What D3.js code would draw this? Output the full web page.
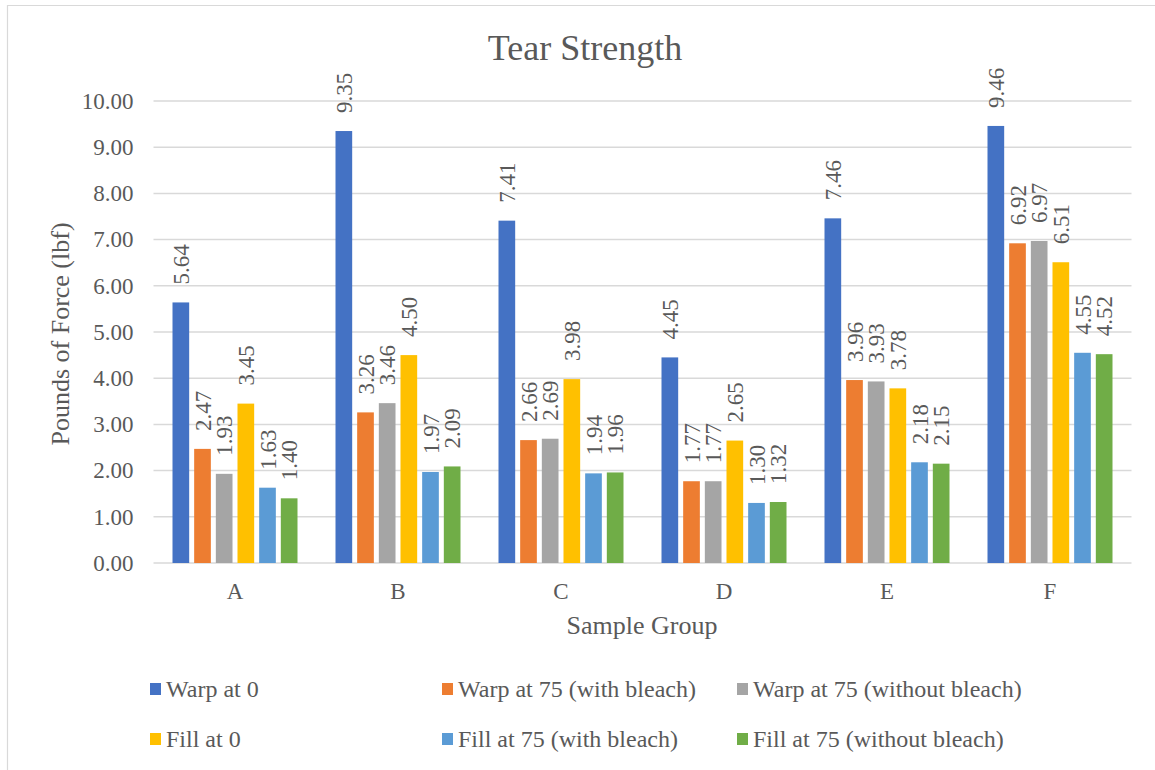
<!DOCTYPE html>
<html>
<head>
    <title>Tear Strength</title>
    <meta charset="utf-8">
    <style>
        body { margin: 0; background: #fff; }
        svg text { font-family: "Liberation Serif", "Times New Roman", serif !important; fill: #595959; }
    </style>
</head>
<body>
<script src="https://d3js.org/d3.v7.min.js"></script>
<script>
    // Data
    const groups = ['A', 'B', 'C', 'D', 'E', 'F'];
    const seriesNames = [
        'Warp at 0',
        'Warp at 75 (with bleach)',
        'Warp at 75 (without bleach)',
        'Fill at 0',
        'Fill at 75 (with bleach)',
        'Fill at 75 (without bleach)'
    ];
    const warpAt0 = [5.64, 9.35, 7.41, 4.45, 7.46, 9.46];
    const warp75Bleach = [2.47, 3.26, 2.66, 1.77, 3.96, 6.92];
    const warp75NoBleach = [1.93, 3.46, 2.69, 1.77, 3.93, 6.97];
    const fillAt0 = [3.45, 4.50, 3.98, 2.65, 3.78, 6.51];
    const fill75Bleach = [1.63, 1.97, 1.94, 1.30, 2.18, 4.55];
    const fill75NoBleach = [1.40, 2.09, 1.96, 1.32, 2.15, 4.52];
    const yTicks = [0, 1, 2, 3, 4, 5, 6, 7, 8, 9, 10];

    const seriesValues = [warpAt0, warp75Bleach, warp75NoBleach, fillAt0, fill75Bleach, fill75NoBleach];
    const colors = ['#4472C4', '#ED7D31', '#A5A5A5', '#FFC000', '#5B9BD5', '#70AD47'];

    const SIZES = {
        WIDTH: 1155,
        HEIGHT: 770,
        LEFT: 153.5,
        RIGHT: 1131.5,
        TOP: 101,
        BOTTOM: 563,
        GROUP_PAD: 19
    };
    const FONT = '"Liberation Serif", "Times New Roman", serif';

    const svg = d3.select('body').append('svg')
        .attr('width', SIZES.WIDTH)
        .attr('height', SIZES.HEIGHT)
        .attr('font-family', FONT);

    // chart area border (top and left edges visible)
    svg.append('path')
        .attr('d', `M7.5,770 V5.5 H1155`)
        .attr('fill', 'none')
        .attr('stroke', '#d9d9d9')
        .attr('stroke-width', 1.2);

    const x0 = d3.scaleBand().domain(groups).range([SIZES.LEFT, SIZES.RIGHT]).padding(0);
    const x1 = d3.scaleBand().domain(d3.range(seriesNames.length))
        .range([SIZES.GROUP_PAD, x0.bandwidth() - SIZES.GROUP_PAD])
        .paddingInner(0.23).paddingOuter(0);
    const y = d3.scaleLinear().domain([0, 10]).range([SIZES.BOTTOM, SIZES.TOP]);

    // gridlines
    svg.append('g').selectAll('line')
        .data(yTicks)
        .join('line')
        .attr('x1', SIZES.LEFT).attr('x2', SIZES.RIGHT)
        .attr('y1', d => y(d)).attr('y2', d => y(d))
        .attr('stroke', '#d9d9d9')
        .attr('stroke-width', 1.5);

    // y axis labels
    const yAxis = svg.append('g')
        .attr('transform', `translate(${SIZES.LEFT - 20},0)`)
        .call(d3.axisLeft(y).tickValues(yTicks).tickFormat(d3.format('.2f')).tickSize(0).tickPadding(0))
        .attr('font-family', FONT);
    yAxis.select('.domain').remove();
    yAxis.selectAll('text')
        .style('font-size', '23px')
        .attr('fill', '#595959');

    // x axis labels
    const xAxis = svg.append('g')
        .attr('transform', `translate(0,${SIZES.BOTTOM})`)
        .call(d3.axisBottom(x0).tickSize(0).tickPadding(20))
        .attr('font-family', FONT);
    xAxis.select('.domain').remove();
    xAxis.selectAll('text')
        .style('font-size', '23px')
        .attr('fill', '#595959');

    // bars
    const groupSel = svg.append('g').selectAll('g')
        .data(groups)
        .join('g')
        .attr('transform', d => `translate(${x0(d)},0)`);

    const cells = groupSel.selectAll('g')
        .data((g, gi) => seriesValues.map((vals, si) => ({si, v: vals[gi]})))
        .join('g');

    cells.append('rect')
        .attr('x', d => x1(d.si))
        .attr('width', x1.bandwidth())
        .attr('y', d => y(d.v))
        .attr('height', d => y(0) - y(d.v))
        .attr('fill', d => colors[d.si]);

    // rotated value labels
    cells.append('text')
        .attr('transform', d => `translate(${x1(d.si) + x1.bandwidth() / 2},${y(d.v) - 18}) rotate(-90)`)
        .attr('dy', '0.35em')
        .style('font-size', '23px')
        .text(d => d.v.toFixed(2));

    // titles
    svg.append('text')
        .attr('x', 585).attr('y', 60)
        .attr('text-anchor', 'middle')
        .style('font-size', '36px')
        .text('Tear Strength');

    svg.append('text')
        .attr('x', 642).attr('y', 634)
        .attr('text-anchor', 'middle')
        .style('font-size', '26px')
        .text('Sample Group');

    svg.append('text')
        .attr('transform', `translate(69,334) rotate(-90)`)
        .attr('text-anchor', 'middle')
        .style('font-size', '26px')
        .text('Pounds of Force (lbf)');

    // legend
    const legendCols = [150, 442, 737];
    const legendRows = [689, 739];
    const legend = svg.append('g').selectAll('g')
        .data(seriesNames)
        .join('g')
        .attr('transform', (d, i) => `translate(${legendCols[i % 3]},${legendRows[Math.floor(i / 3)]})`);
    legend.append('rect')
        .attr('x', 0).attr('y', -6)
        .attr('width', 11).attr('height', 12)
        .attr('fill', (d, i) => colors[i]);
    legend.append('text')
        .attr('x', 16).attr('dy', '0.34em')
        .style('font-size', '24px')
        .text(d => d);
</script>
</body>
</html>
